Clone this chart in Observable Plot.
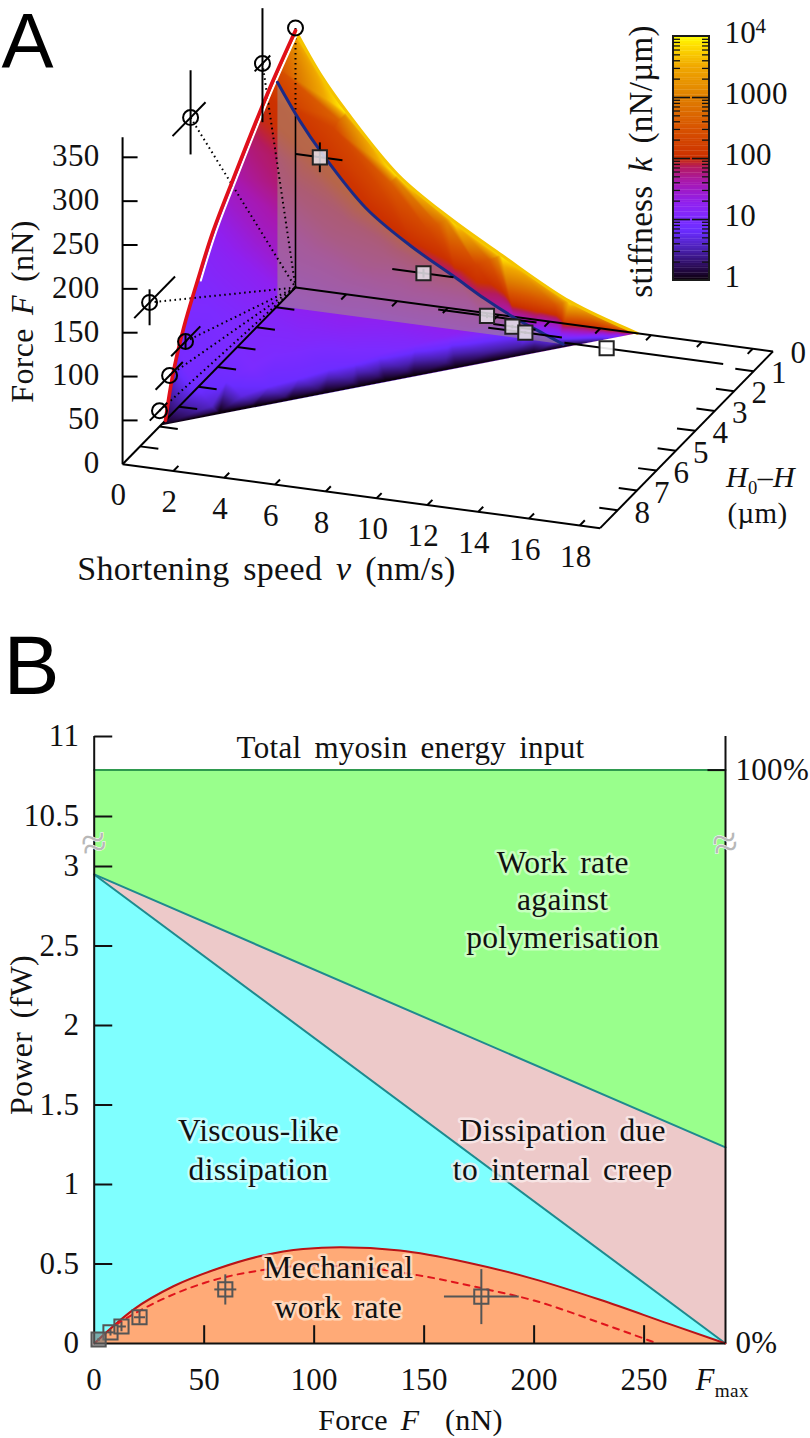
<!DOCTYPE html>
<html><head><meta charset="utf-8">
<script src="https://cdn.jsdelivr.net/npm/d3@7"></script>
<script src="https://cdn.jsdelivr.net/npm/@observablehq/plot@0.6"></script>
<style>html,body{margin:0;padding:0;background:#fff}svg{display:block}</style>
</head><body><div id="a"></div><div id="b"></div>
<script>
// ---------- Panel A data (v nm/s, H µm, F nN, log10 k) ----------
const surfaceH = [0, 0.1, 0.25, 0.5, 0.93, 1.5, 2, 2.6, 3.2, 3.6, 4, 4.5, 5, 5.5, 6];
const surfaceV = [
 [0,2.0,4.0,6.1,8.1,10.8,12.8,13.5],
 [0,2.0,4.0,6.0,8.0,10.6,12.6,13.3],
 [0,1.9,3.9,5.8,7.8,10.4,12.3,13.0],
 [0,1.9,3.7,5.6,7.5,10.0,11.9,12.5],
 [0,1.7,3.5,5.2,7.0,9.3,11.1,11.6],
 [0,1.6,3.2,4.7,6.3,8.4,10.0,10.5],
 [0,1.4,2.9,4.3,5.7,7.6,9.0,9.5],
 [0,1.2,2.5,3.7,5.0,6.7,7.9,8.3],
 [0,1.1,2.1,3.2,4.3,5.7,6.8,7.1],
 [0,1.0,1.9,2.9,3.8,5.1,6.0,6.3],
 [0,0.8,1.7,2.5,3.3,4.4,5.3,5.6],
 [0,0.7,1.4,2.1,2.7,3.6,4.3,4.6],
 [0,0.5,1.1,1.6,2.1,2.8,3.4,3.6],
 [0,0.4,0.8,1.2,1.5,2.1,2.5,2.6],
 [0,0.2,0.5,0.7,1.0,1.3,1.5,1.6]];
const surfaceF = [
 [293,208,144,103,69,26,6,0],
 [290,206,142,102,68,26,6,0],
 [287,204,141,100,68,26,6,0],
 [281,200,138,98,66,25,6,0],
 [272,193,133,95,64,24,5,0],
 [252,179,123,88,59,23,5,0],
 [238,169,117,83,56,21,5,0],
 [218,155,107,76,51,20,4,0],
 [198,141,97,69,47,18,4,0],
 [183,130,90,64,43,16,4,0],
 [168,119,82,59,40,15,3,0],
 [148,105,73,52,35,13,3,0],
 [124,88,61,43,29,11,2,0],
 [100,71,49,35,24,9,2,0],
 [66,47,32,23,16,6,1,0]];
const surfaceLogK = [
 [4,4,4,4,4,3.9,3.3,2.0],
 [3.4,3.1,3.1,3.1,3.1,3.0,2.5,1.5],
 [3.1,2.65,2.6,2.6,2.6,2.5,2,1],
 [2.8,2.3,2.3,2.3,2.25,2.1,1.5,0.5],
 [2.4,2.1,2.05,2.0,1.85,1.55,0.8,0],
 [2.0,1.95,1.85,1.75,1.65,1.35,0.45,0],
 [1.95,1.85,1.75,1.65,1.5,1.2,0.4,0],
 [1.75,1.65,1.55,1.45,1.3,1.05,0.35,0],
 [1.6,1.5,1.4,1.3,1.2,0.95,0.3,0],
 [1.45,1.35,1.25,1.2,1.1,0.9,0.3,0],
 [1.3,1.2,1.15,1.1,1.05,0.85,0.3,0],
 [1.15,1.1,1.05,1.05,1.0,0.85,0.3,0],
 [1.05,1.0,1.0,1.0,1.0,0.8,0.3,0],
 [1.0,0.95,0.95,0.9,0.85,0.7,0.25,0],
 [0.95,0.95,0.9,0.85,0.75,0.6,0.25,0]];
const surfaceTipH = 6.95;            // where the surface meets the floor at v = 0

const edgeV = [0,1.0,2.02,4.04,6.06,8.08,10.8,13.46];      // H = 0 edge
const edgeF = [293,246,208,144,103,69,26,0];
const redH = [0,1.44,3.19,4.27,5.04,5.76,6.33,6.69];       // v = 0 edge
const redF = [293,254,197,159,122,84,42,0];
const blueH = 0.93;
const blueV = [0,0.87,1.75,3.49,5.24,6.98,8.15,9.31,10.48,11.25];
const blueF = [255,215,181,125,89,60,40,23,9,0];

const circleH = [0,1.7,5.4,7.51,5.66,6.48,7.0];
const circleF = [296,294,316,153,66.6,46.4,18];
const circleHlo = [0,1.3,4.63,6.2,4.9,5.8,6.6];
const circleHhi = [0,2.1,6.33,8.3,6.4,7.2,7.5];
const circleFlo = [296,227,274,127,58,46.4,18];
const circleFhi = [296,357,370,168,75,46.4,18];

const squareV = [1.67,5.75,8.25,9.25,9.76,12.96];
const squareVlo = [0.73,4.52,6.33,8.5,8.3,11.3];
const squareVhi = [2.56,6.93,10.2,10.16,11.2,17.55];
const squareForce = [176,59.6,20.6,12.4,7.4,2];
const squareForceErr = [17,5,2.5,2,1.5,0.5];

const vTicks = [2,4,6,8,10,12,14,16,18];
const vLabels = [0,2,4,6,8,10,12,14,16,18];
const hTicks = [1,2,3,4,5,6,7,8];
const hLabels = [0,1,2,3,4,5,6,7,8];
const fTicks = [0,50,100,150,200,250,300,350];
const vMax = 18.8, hMax = 8.9, fTop = 373;

const kTicks = [0,1,2,3];
const kMinor = [2,3,4,5,6,7,8,9];
const kLabels = ["1","10","100","1000","10"];
const colorStops = [0,0.2,0.5,0.8,1,1.25,1.6,1.85,2,2.5,3,3.5,3.85,4];
const colorValues = ["#0c000c","#280a50","#4a20b0","#6a2cff","#7c2bff","#8f20f0","#a818b0","#b41a60","#cc3000","#d85400","#e08000","#f0a800","#ffe000","#ffff00"];

// ---------- Panel B data ----------
const forceEnds = [0,287];
const totalPower = 10.79;
const polyTop = [2.95,1.233];
const viscTop = [2.95,0];
const mechF = [0,18,36,56,75.6,95,112,139,169.6,200,230,261,287];
const mechP = [0,0.215,0.36,0.47,0.55,0.595,0.605,0.585,0.51,0.405,0.275,0.125,0];
const dashF = [10,22.5,51,75.6,100,124,147,177,200,230,256];
const dashP = [0.12,0.22,0.385,0.46,0.49,0.475,0.43,0.345,0.27,0.13,0];
const powerP = [0.295,0.34,0.165,0.107,0.07,0.025];
const powerErr = [0.173,0.095,0.04,0.03,0.02,0.01];
const xTicksB = [50,100,150,200,250];
const xLabelsB = [0,50,100,150,200,250];
const yTicksB = [0.5,1,1.5,2,2.5,3,10.5,11];
const yLabelsB = [0,0.5,1,1.5,2,2.5,3,10.5,11];

// ---------- helpers ----------
const SERIF = "'Liberation Serif','Times New Roman',serif";
const px = (v,H,F=0) => 295 + 25.4*v - 19.43*H;
const py = (v,H,F=0) => 287 + 3.4*v + 19.86*H - 0.877*F;
const kY = k => 280 - 61*k;
function rich(svg){
  svg.querySelectorAll("text").forEach(t=>{
    const s=t.textContent; if(!/<\w+>/.test(s)) return;
    t.textContent=""; let i=false,sub=false,back=0;
    s.split(/(<\/?\w+>)/).filter(Boolean).forEach(p=>{
      if(p==="<i>") i=true; else if(p==="</i>") i=false;
      else if(p==="<sub>") sub=true; else if(p==="</sub>") sub=false;
      else{
        const e=document.createElementNS("http://www.w3.org/2000/svg","tspan");
        e.textContent=p;
        if(i) e.setAttribute("font-style","italic");
        if(sub){e.setAttribute("font-size","0.62em");e.setAttribute("dy","0.35em");back=1;}
        else if(back){e.setAttribute("dy","-0.22em");back=0;}
        t.appendChild(e);
      }
    });
  });
}

// ---------- Panel A ----------
const samples = [];
surfaceH.forEach((H,r)=>surfaceV[r].forEach((v,c)=>samples.push({x:px(v,H),y:py(v,H,surfaceF[r][c]),k:surfaceLogK[r][c]})));
samples.push({x:px(0,surfaceTipH),y:py(0,surfaceTipH,0),k:0});

const edge = edgeV.map((v,i)=>({x:px(v,0),y:py(v,0,edgeF[i])}));
const red = redH.map((H,i)=>({x:px(0,H),y:py(0,H,redF[i])}));
const blue = blueV.map((v,i)=>({x:px(v,blueH),y:py(v,blueH,blueF[i])}));
const plane = [...blue,{x:px(0,blueH),y:py(0,blueH,0)}];
const circles = circleH.map((H,i)=>({H,F:circleF[i],lo:circleHlo[i],hi:circleHhi[i],flo:circleFlo[i],fhi:circleFhi[i]}));
const squares = squareV.map((v,i)=>({v,F:squareForce[i],lo:squareVlo[i],hi:squareVhi[i],e:squareForceErr[i]}));
const links = (data,f,o={}) => Plot.link(data,{x1:d=>f(d)[0],y1:d=>f(d)[1],x2:d=>f(d)[2],y2:d=>f(d)[3],stroke:"#000",strokeWidth:2,...o});
const P3 = (v,H,F=0) => [px(v,H),py(v,H,F)];
const corner = P3(0,0,0);
const bar = d3.range(0,4,0.04);

const axisLines = [
 [P3(0,hMax),P3(vMax,hMax)],[P3(vMax,hMax),P3(vMax,0)],[P3(vMax,0),P3(0,0)],[P3(0,0),P3(0,hMax)],[P3(0,hMax),P3(0,hMax,fTop)]
];
const tx = {fill:"#111"};
const A = Plot.plot({
  width:810,height:620,margin:0,
  style:{fontFamily:SERIF,background:"#fff",color:"#111",letterSpacing:"0.3px",wordSpacing:"5px"},
  x:{domain:[0,810],range:[0,810],axis:null},
  y:{domain:[0,620],range:[0,620],axis:null},
  color:{type:"linear",domain:colorStops,range:colorValues},
  marks:[
    Plot.raster(samples,{x:"x",y:"y",fill:"k",interpolate:"barycentric"}),
    Plot.line(plane,{x:"x",y:"y",fill:"rgb(166,146,133)",fillOpacity:0.55,stroke:"none",curve:"linear"}),
    Plot.line(edge,{x:"x",y:"y",stroke:"#f4c400",strokeWidth:3,curve:"catmull-rom"}),
    // axes
    links(axisLines,d=>[d[0][0],d[0][1],d[1][0],d[1][1]]),
    links(vTicks,v=>[...P3(v,hMax),...P3(v,hMax-0.26)]),
    links(vTicks,v=>[...P3(v,0),...P3(v,0.26)]),
    links(hTicks,H=>[...P3(vMax,H),...P3(vMax-0.72,H)]),
    links(hTicks,H=>[...P3(0,H),...P3(0.72,H)]),
    links(fTicks.slice(1),F=>[px(0,hMax),py(0,hMax,F),px(0,hMax)+15,py(0,hMax,F)]),
    // projections
    links(circles.slice(1),d=>[...P3(0,d.H,d.F),...corner],{strokeDasharray:"1.6,3.4"}),
    links([0],()=>[...P3(0,0,296),...P3(0,0,196)],{strokeDasharray:"1.6,3.4"}),
    links([0],()=>[...P3(0,0,196),...corner],{strokeWidth:1.6}),
    // curves
    Plot.line(red.slice(0,5),{x:"x",y:"y",dx:3.2,stroke:"#fff",strokeWidth:2,curve:"catmull-rom"}),
    Plot.line(red,{x:"x",y:"y",stroke:"#e0101a",strokeWidth:3.6,curve:"catmull-rom"}),
    Plot.line(blue,{x:"x",y:"y",stroke:"#1c2a86",strokeWidth:3,curve:"catmull-rom"}),
    // circles
    links(circles,d=>[...P3(0,d.lo,d.F),...P3(0,d.hi,d.F)]),
    links(circles,d=>[...P3(0,d.H,d.flo),...P3(0,d.H,d.fhi)]),
    Plot.dot(circles,{x:d=>px(0,d.H),y:d=>py(0,d.H,d.F),r:7.5,stroke:"#000",strokeWidth:2,fill:"none"}),
    // squares
    links(squares,d=>[...P3(d.lo,blueH,d.F),...P3(d.hi,blueH,d.F)]),
    links(squares,d=>[...P3(d.v,blueH,d.F-d.e),...P3(d.v,blueH,d.F+d.e)]),
    Plot.dot(squares.slice(0,5),{x:d=>px(d.v,blueH),y:d=>py(d.v,blueH,d.F),symbol:"square",r:8,stroke:"#222",strokeWidth:2,fill:"#e6e2ea",fillOpacity:0.86}),
    Plot.dot(squares.slice(5),{x:d=>px(d.v,blueH),y:d=>py(d.v,blueH,d.F),symbol:"square",r:8,stroke:"#222",strokeWidth:2,fill:"#fff",fillOpacity:0.9}),
    // tick labels
    Plot.text(vLabels,{x:v=>118+25.4*v,y:v=>495+3.4*v,text:String,fontSize:31,...tx}),
    Plot.text(hLabels,{x:H=>798-19.5*H,y:H=>353+20*H,text:String,fontSize:31,...tx}),
    Plot.text(fTicks,{x:()=>99,y:F=>py(0,hMax,F)-1,text:String,textAnchor:"end",fontSize:31,...tx}),
    Plot.text(["Shortening speed <i>v</i> (nm/s)"],{x:()=>266,y:()=>569,text:String,fontSize:34,...tx}),
    Plot.text(["Force <i>F</i> (nN)"],{x:()=>22,y:()=>311,text:String,rotate:-90,fontSize:32,...tx}),
    Plot.text(["<i>H</i><sub>0</sub>–<i>H</i>"],{x:()=>760,y:()=>477,text:String,fontSize:30,...tx}),
    Plot.text(["(µm)"],{x:()=>757,y:()=>513,text:String,fontSize:29,...tx}),
    Plot.text(["stiffness <i>k</i> (nN/µm)"],{x:()=>641,y:()=>161,text:String,rotate:-90,fontSize:33,...tx}),
    // colour bar
    Plot.rect(bar,{x1:()=>673,x2:()=>709,y1:k=>kY(k),y2:k=>kY(k+0.045),fill:k=>k+0.02}),
    Plot.rect([0],{x1:()=>673,x2:()=>709,y1:()=>kY(0),y2:()=>kY(4),stroke:"#1a1a1a",strokeWidth:2,fill:"none"}),
    ...[[673,690],[692,709]].map(([a,b])=>Plot.ruleY(kTicks,{y:k=>kY(k),x1:()=>a,x2:()=>b,stroke:"#111",strokeWidth:1.6,filter:k=>k>0})),
    ...[[673,680],[702,709]].map(([a,b])=>Plot.ruleY(kTicks.flatMap(d=>kMinor.map(m=>d+Math.log10(m))),{y:k=>kY(k),x1:()=>a,x2:()=>b,stroke:"#111",strokeWidth:1.3})),
    Plot.text(kLabels,{x:()=>724,y:(d,i)=>kY(i)-3,text:String,textAnchor:"start",fontSize:31,...tx}),
    Plot.text(["4"],{x:()=>755,y:()=>kY(4)-10,text:String,textAnchor:"start",fontSize:21,...tx}),
    Plot.text(["A"],{x:()=>1,y:()=>43,text:String,textAnchor:"start",fontSize:78,fontFamily:"'Liberation Sans',Arial,sans-serif",fill:"#000"})
  ]
});
rich(A);
// the interpolated raster is trimmed to the surface's own outline
(function(){
  const line = d3.line(d=>d.x,d=>d.y).curve(d3.curveCatmullRom);
  const tip = {x:px(0,surfaceTipH),y:py(0,surfaceTipH,0)};
  const d = line(edge)+"L"+tip.x+","+tip.y+line([...red].reverse()).replace(/^M/,"L")+"Z";
  const NS="http://www.w3.org/2000/svg";
  const cp=document.createElementNS(NS,"clipPath"); cp.setAttribute("id","surface-clip");
  const p=document.createElementNS(NS,"path"); p.setAttribute("d",d); cp.appendChild(p);
  A.insertBefore(cp,A.firstChild);
  A.querySelector("image").setAttribute("clip-path","url(#surface-clip)");
})();
document.getElementById("a").appendChild(A);

// ---------- Panel B ----------
const ends = forceEnds.map((F,i)=>({F,poly:polyTop[i],visc:viscTop[i],total:totalPower}));
const mech = mechF.map((F,i)=>({F,P:mechP[i]}));
const dash = dashF.map((F,i)=>({F,P:dashP[i]}));
const pts = squareForce.map((F,i)=>({F,P:powerP[i],fe:squareForceErr[i],pe:powerErr[i]}));
const halo = {paintOrder:"stroke",strokeWidth:5,strokeOpacity:0.75,fill:"#111",fontSize:31.5};
const Mono = {curve:"monotone-x"};
const B = Plot.plot({
  width:810,height:818,margin:0,
  style:{fontFamily:SERIF,background:"#fff",color:"#111",letterSpacing:"0.3px",wordSpacing:"5px"},
  x:{domain:[0,287],range:[93.7,725],axis:null},
  y:{type:"linear",domain:[0,3,10.5,11],range:[723,246,196,116],axis:null},
  marks:[
    Plot.areaY(ends,{x:"F",y1:0,y2:"total",fill:"#99ff8c"}),
    Plot.areaY(ends,{x:"F",y1:0,y2:"poly",fill:"#edc9c9"}),
    Plot.areaY(ends,{x:"F",y1:0,y2:"visc",fill:"#7fffff"}),
    Plot.areaY(mech,{x:"F",y1:0,y2:"P",fill:"#ffaa77",...Mono}),
    Plot.line(ends,{x:"F",y:"total",stroke:"#2f9a4f",strokeWidth:2}),
    Plot.line(ends,{x:"F",y:"poly",stroke:"#1e8a8e",strokeWidth:2}),
    Plot.line(ends,{x:"F",y:"visc",stroke:"#1e8a8e",strokeWidth:2}),
    Plot.line(mech,{x:"F",y:"P",stroke:"#b81418",strokeWidth:2,...Mono}),
    Plot.line(dash,{x:"F",y:"P",stroke:"#e0141c",strokeWidth:2,strokeDasharray:"6,6",...Mono}),
    // axes
    Plot.ruleX([0,287],{y1:0,y2:11,stroke:"#111",strokeWidth:2}),
    Plot.ruleY([0],{x1:0,x2:287,stroke:"#111",strokeWidth:2}),
    Plot.link(yTicksB,{x1:()=>0,x2:()=>8.2,y1:d=>d,y2:d=>d,stroke:"#111",strokeWidth:2}),
    Plot.link(xTicksB,{x1:d=>d,x2:d=>d,y1:()=>0,y2:()=>0.115,stroke:"#111",strokeWidth:2}),
    Plot.link([totalPower],{x1:()=>278.8,x2:()=>287,y1:d=>d,y2:d=>d,stroke:"#111",strokeWidth:2}),
    // break marks
    Plot.text(forceEnds,{x:d=>d,y:()=>6.45,text:()=>"≈",fontSize:46,fill:"#b8b8b8",stroke:"#fff",strokeWidth:1,paintOrder:"stroke",rotate:-12}),
    // data
    Plot.link(pts,{x1:d=>d.F-d.fe,x2:d=>d.F+d.fe,y1:"P",y2:"P",stroke:"#555",strokeWidth:2}),
    Plot.link(pts,{x1:"F",x2:"F",y1:d=>d.P-d.pe,y2:d=>d.P+d.pe,stroke:"#555",strokeWidth:2}),
    Plot.dot(pts.slice(0,5),{x:"F",y:"P",symbol:"square",r:8,stroke:"#555",strokeWidth:2,fill:"none"}),
    Plot.dot(pts.slice(5),{x:"F",y:"P",symbol:"square",r:8,stroke:"#555",strokeWidth:2,fill:"#777",fillOpacity:0.6}),
    // labels
    Plot.text(xLabelsB,{x:d=>d,y:()=>0,dy:37,text:String,fontSize:31,...tx}),
    Plot.text(yLabelsB,{x:()=>0,y:d=>d,dx:-15,text:String,textAnchor:"end",fontSize:31,...tx}),
    Plot.text(["<i>F</i><sub>max</sub>"],{x:()=>285.5,y:()=>0,dy:37,text:String,fontSize:31,...tx}),
    Plot.text(["0%"],{x:()=>287,y:()=>0,dx:10,text:String,textAnchor:"start",fontSize:31,...tx}),
    Plot.text(["100%"],{x:()=>287,y:()=>totalPower,dx:10,text:String,textAnchor:"start",fontSize:31,...tx}),
    Plot.text(["Force <i>F</i>  (nN)"],{x:()=>143.8,y:()=>0,dy:77,text:String,fontSize:30,...tx}),
    Plot.text(["Power (fW)"],{x:()=>0,y:()=>1.94,dx:-72,text:String,rotate:-90,fontSize:32,...tx}),
    Plot.text(["Total myosin energy input"],{x:()=>143.8,y:()=>10.925,text:String,fontSize:31,...tx}),
    Plot.text(["Work rate\nagainst\npolymerisation"],{x:()=>213,y:()=>2.8,text:String,lineHeight:1.2,stroke:"#d8ffd0",...halo}),
    Plot.text(["Viscous-like\ndissipation"],{x:()=>74.7,y:()=>1.23,text:String,lineHeight:1.25,stroke:"#d8ffff",...halo}),
    Plot.text(["Dissipation due\nto internal creep"],{x:()=>213,y:()=>1.23,text:String,lineHeight:1.25,stroke:"#fbeeee",...halo}),
    Plot.text(["Mechanical\nwork rate"],{x:()=>111,y:()=>0.365,text:String,lineHeight:1.25,stroke:"#ffe6d2",...halo}),
    Plot.text(["B"],{frameAnchor:"top-left",dx:3,dy:14,lineAnchor:"top",text:String,textAnchor:"start",fontSize:84,fontFamily:"'Liberation Sans',Arial,sans-serif",fill:"#000"})
  ]
});
rich(B); document.getElementById("b").appendChild(B);
</script></body></html>
